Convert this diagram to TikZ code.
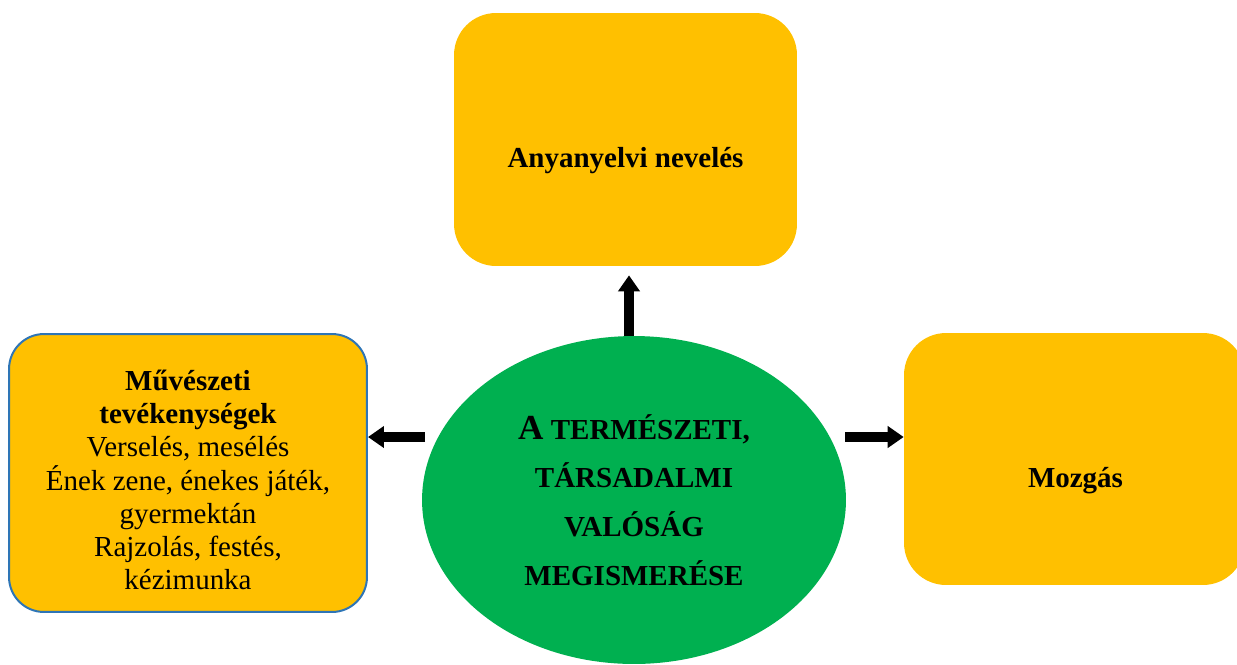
\documentclass[tikz,border=0pt]{standalone}
\usepackage{fontspec}
\setmainfont{Liberation Serif}
\usetikzlibrary{arrows.meta,shapes.geometric}
\definecolor{gold}{HTML}{FFC000}
\definecolor{leaf}{HTML}{00B050}
\definecolor{rim}{HTML}{2E75B6}
\newcommand{\kis}{\fontsize{16.5}{27.8}\selectfont}

\begin{document}
\begin{tikzpicture}[x=0.02cm,y=-0.02cm,
   box/.style={fill=gold,inner sep=0pt,rounded corners=0.84cm},
   arr/.style={-{Triangle[width=0.42cm,length=0.32cm]},line width=0.2cm},
   txt/.style={font=\fontsize{16.5}{18.9}\selectfont,align=center,inner sep=0pt}]
 %  \draw[gray] (0,0) rectangle(1237,664);
   \path[use as bounding box] (0,0) rectangle(1237,664);
   % boxes
   \node[box,minimum width=6.86cm,minimum height=5.06cm] (lang) at ( 625.5,139.5) {};
   \node[box,draw=rim,line width=0.04cm,rounded corners=0.7cm,
         minimum width=7.16cm,minimum height=5.56cm] (art) at ( 188,473) {};
   \node[box,minimum width=6.82cm,minimum height=5.04cm] (moz) at (1074.5,459) {};
   \node[ellipse,fill=leaf,inner sep=0pt,minimum width=8.48cm,minimum height=6.56cm,
         align=center,font=\kis\bfseries] (world) at ( 634,500)
        {{\fontsize{20}{27.8}\selectfont A} TERMÉSZETI,\\TÁRSADALMI\\VALÓSÁG\\MEGISMERÉSE};
   % texts
   \node[txt,font=\fontsize{16.5}{18.9}\selectfont\bfseries,anchor=base] (langtxt) at ( 625.5,167) {Anyanyelvi nevelés};
   \node[txt,font=\fontsize{16.5}{18.9}\selectfont\bfseries,anchor=base] (moztxt) at (1075.5,487) {Mozgás};
   \node[txt] (arttxt) at ( 188,480)
        {\textbf{Művészeti}\\\textbf{tevékenységek}\\Verselés, mesélés\\Ének zene, énekes játék,\\gyermektán\\Rajzolás, festés,\\kézimunka};
   % arrows
   \coordinate (up0) at ( 629,336);
   \coordinate (lf0) at ( 425,437);
   \coordinate (rt0) at ( 845,437);
   \draw[arr,shorten >=0.18cm] (up0) -- (up0 |- lang.south);
   \draw[arr] (lf0) -- (lf0 -| art.east);
   \draw[arr] (rt0) -- (rt0 -| moz.west);
\end{tikzpicture}
\end{document}
